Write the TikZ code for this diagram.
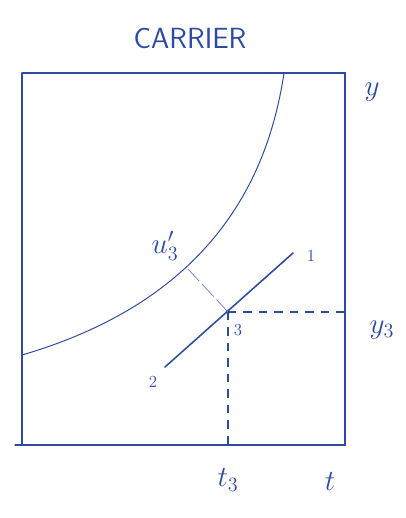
\documentclass[tikz,border=0pt]{standalone}
\usetikzlibrary{calc}
\definecolor{pen}{RGB}{45,75,160}
\begin{document}
\begin{tikzpicture}[x=0.025cm,y=-0.025cm,
  pen/.style={draw=pen,line width=0.9pt,line cap=round},
  thin pen/.style={draw=pen!70,line width=0.5pt},
  dash pen/.style={draw=pen,line width=0.8pt,dash pattern=on 6pt off 5pt},
  lbl/.style={text=pen,font=\huge,inner sep=1pt},
  num/.style={text=pen,font=\large,inner sep=1pt}]
\useasboundingbox (0,0) rectangle (406,518);
\fill[white] (0,0) rectangle (406,518);
% box corners
\coordinate (tl) at (22,73);
\coordinate (tr) at (345,73);
\coordinate (br) at (345,445);
\coordinate (bl) at (22,445);
\coordinate (blx) at (15,445);
\draw[pen] (tl) -- (tr) -- (br) -- (blx);
\draw[pen] (tl) -- (bl);
% curve
\coordinate (ctop) at (284,73);
\coordinate (cleft) at (22,355);
\coordinate (cfoot) at (187,268);
\draw[pen,line width=0.7pt] (ctop) .. controls (268,180) and (210,300) .. (cleft);
% line 2-1
\coordinate (p2) at (165,367);
\coordinate (p1) at (293,253);
\coordinate (p3) at (228,312);
\draw[pen,line width=1.1pt] (p2) -- (p1);
\fill[pen] (p3) circle (1.8);
% dashed
\coordinate (yr) at (345,312);
\coordinate (tb) at (228,445);
\draw[dash pen] (p3) -- (yr);
\draw[dash pen] (p3) -- (tb);
\draw[thin pen,dash pattern=on 12pt off 3pt] (p3) -- (cfoot);
% labels
\node[lbl,font=\huge\sffamily] (title) at (190,38) {CARRIER};
\node[lbl] (ly) at (372,92) {$y$};
\node[lbl] (ly3) at (382,330) {$y_3$};
\node[lbl] (lu3) at (165,246) {$u_3'$};
\node[num] (l1) at (311,256) {1};
\node[num] (l2) at (153,382) {2};
\node[num] (l3) at (238,330) {3};
\node[lbl] (lt3) at (228,480) {$t_3$};
\node[lbl] (lt) at (330,482) {$t$};
\end{tikzpicture}
\end{document}
